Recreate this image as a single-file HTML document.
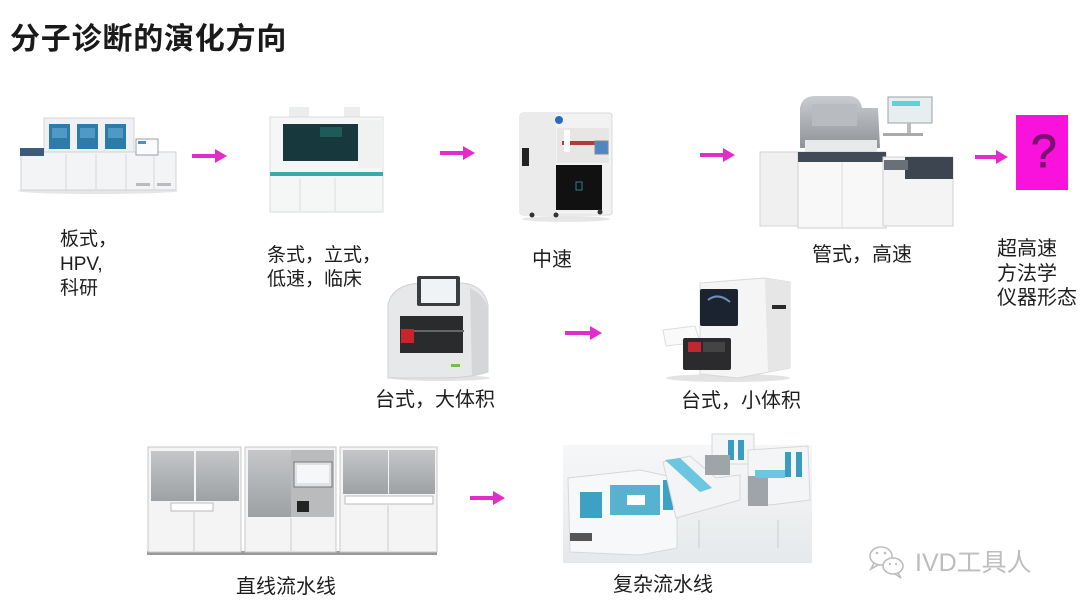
<!DOCTYPE html>
<html><head><meta charset="utf-8">
<style>
html,body{margin:0;padding:0;background:#fff;}
body{width:1080px;height:608px;position:relative;overflow:hidden;font-family:"Liberation Sans","Noto Sans CJK SC",sans-serif;color:#1e1e1e;}
.t{position:absolute;white-space:nowrap;font-size:20px;line-height:24px;}
svg{position:absolute;left:0;top:0;}
</style></head><body>
<svg width="1080" height="608" viewBox="0 0 1080 608" xmlns="http://www.w3.org/2000/svg">
<defs>
<linearGradient id="gh" x1="0" y1="0" x2="0" y2="1"><stop offset="0" stop-color="#c9ccd0"/><stop offset="1" stop-color="#8f9398"/></linearGradient>
<linearGradient id="gp" x1="0" y1="0" x2="0" y2="1"><stop offset="0" stop-color="#c4c6c8"/><stop offset="1" stop-color="#9ea1a4"/></linearGradient>
<linearGradient id="bg8" x1="0" y1="0" x2="0" y2="1"><stop offset="0" stop-color="#f6f7f8"/><stop offset="1" stop-color="#e6e9eb"/></linearGradient>
</defs>
<!-- arrows -->
<g fill="#e22dca" stroke="none">
<rect x="192" y="154" width="24" height="4"/><polygon points="215,149 227,156 215,163"/>
<rect x="440" y="151" width="24" height="4"/><polygon points="463,146 475,153 463,160"/>
<rect x="700" y="153" width="24" height="4"/><polygon points="723,148 735,155 723,162"/>
<rect x="975" y="155" width="22" height="4"/><polygon points="996,150 1008,157 996,164"/>
<rect x="565" y="331" width="26" height="4"/><polygon points="590,326 602,333 590,340"/>
<rect x="470" y="496" width="24" height="4"/><polygon points="493,491 505,498 493,505"/>
</g>
<!-- question box -->
<rect x="1016" y="115" width="52" height="75" fill="#f912dc"/>

<!-- image 1 -->
<g>
<ellipse cx="98" cy="191" rx="80" ry="3" fill="#e4e6e8"/>
<rect x="44" y="118" width="90" height="36" fill="#eef0f2" stroke="#d2d5d8"/>
<rect x="49" y="124" width="21" height="25" fill="#2f7ba8"/><rect x="77" y="124" width="21" height="25" fill="#2f7ba8"/><rect x="105" y="124" width="21" height="25" fill="#2f7ba8"/>
<rect x="52" y="128" width="15" height="10" fill="#4f9ac4"/><rect x="80" y="128" width="15" height="10" fill="#4f9ac4"/><rect x="108" y="128" width="15" height="10" fill="#4f9ac4"/>
<rect x="21" y="152" width="155" height="38" fill="#f3f4f5" stroke="#cfd2d5"/>
<rect x="20" y="148" width="24" height="8" fill="#3d5c7a"/>
<line x1="66" y1="154" x2="66" y2="190" stroke="#d6d8db"/><line x1="96" y1="154" x2="96" y2="190" stroke="#d6d8db"/><line x1="126" y1="154" x2="126" y2="190" stroke="#d6d8db"/><line x1="154" y1="154" x2="154" y2="190" stroke="#d6d8db"/>
<rect x="136" y="139" width="22" height="16" fill="#fafbfc" stroke="#9aa0a6"/>
<rect x="138" y="141" width="8" height="3" fill="#4f8fc4"/>
<rect x="136" y="183" width="14" height="3" fill="#b8bcc0"/><rect x="157" y="183" width="14" height="3" fill="#b8bcc0"/>
</g>

<!-- image 2 -->
<g>
<rect x="289" y="107" width="20" height="12" fill="#eceeee"/><rect x="344" y="107" width="16" height="12" fill="#eceeee"/>
<rect x="270" y="117" width="113" height="95" fill="#f5f6f6" stroke="#dcdede"/>
<rect x="283" y="124" width="75" height="37" fill="#17393d"/>
<rect x="320" y="127" width="22" height="10" fill="#1f5a5a"/>
<rect x="358" y="120" width="25" height="48" fill="#f0f1f1"/>
<rect x="270" y="172" width="113" height="4" fill="#3ba8aa"/>
<line x1="300" y1="178" x2="300" y2="212" stroke="#dde0e0"/><line x1="335" y1="178" x2="335" y2="212" stroke="#dde0e0"/>
</g>

<!-- image 3 -->
<g>
<ellipse cx="566" cy="219" rx="44" ry="3" fill="#e6e6e6"/>
<rect x="520" y="113" width="92" height="102" rx="3" fill="#f2f2f2" stroke="#d8d8d8"/>
<rect x="520" y="113" width="36" height="102" fill="#ebebeb"/>
<rect x="522" y="148" width="7" height="18" fill="#222"/>
<rect x="557" y="128" width="52" height="35" fill="#e7e6e4"/>
<rect x="562" y="141" width="35" height="4" fill="#b33a3a"/>
<rect x="564" y="130" width="6" height="22" fill="#fff"/>
<rect x="595" y="141" width="13" height="13" fill="#4b87c4" stroke="#888"/>
<rect x="556" y="165" width="46" height="45" fill="#111"/>
<rect x="576" y="182" width="6" height="8" fill="none" stroke="#2e7a8a"/>
<circle cx="559" cy="120" r="4" fill="#2b67c4"/>
<circle cx="532" cy="215" r="2.5" fill="#333"/><circle cx="556" cy="215" r="2.5" fill="#333"/><circle cx="600" cy="212" r="2.5" fill="#333"/>
</g>

<!-- image 4 -->
<g>
<path d="M800,148 L800,108 Q802,96 815,96 L850,96 Q860,97 862,108 L878,108 L880,148 Z" fill="url(#gh)"/>
<rect x="812" y="104" width="45" height="22" fill="#b8bcc0"/>
<rect x="805" y="140" width="72" height="14" fill="#e8e9ea"/>
<rect x="888" y="97" width="44" height="26" fill="#e8eef0" stroke="#9aa1a6"/>
<rect x="892" y="101" width="28" height="5" fill="#5fd3d3"/>
<rect x="907" y="123" width="4" height="12" fill="#bbb"/>
<rect x="883" y="133" width="40" height="3" fill="#aaa"/>
<rect x="760" y="152" width="40" height="74" fill="#f0f0f0" stroke="#d4d4d4"/>
<rect x="798" y="152" width="88" height="76" fill="#f8f8f8" stroke="#cfcfcf"/>
<rect x="798" y="152" width="88" height="10" fill="#3f4b56"/>
<line x1="842" y1="162" x2="842" y2="228" stroke="#ddd"/>
<rect x="883" y="157" width="70" height="69" fill="#f4f4f4" stroke="#d0d0d0"/>
<rect x="905" y="157" width="48" height="22" fill="#3d4650"/>
<rect x="884" y="160" width="24" height="10" fill="#6a7078"/>
</g>

<!-- image 5 -->
<g>
<ellipse cx="440" cy="378" rx="50" ry="3" fill="#e3e3e3"/>
<path d="M388,378 L388,305 Q392,285 420,283 L462,283 Q484,285 488,305 L488,372 Q470,378 440,378 Z" fill="#e7e8e9" stroke="#cfd0d2"/>
<path d="M470,288 Q486,296 488,310 L488,372 L472,376 Z" fill="#d4d6d8"/>
<rect x="417" y="276" width="43" height="30" rx="2" fill="#3a3d40"/>
<rect x="421" y="279" width="35" height="24" fill="#f0f3f5"/>
<rect x="400" y="316" width="63" height="37" fill="#2a2b2d"/>
<rect x="404" y="330" width="60" height="2" fill="#666"/>
<rect x="401" y="329" width="13" height="14" fill="#c9232b"/>
<rect x="451" y="364" width="9" height="3" fill="#6cc24a"/>
</g>

<!-- image 6 -->
<g>
<ellipse cx="728" cy="378" rx="62" ry="4" fill="#e3e3e3"/>
<path d="M700,283 L765,278 L790,282 L790,368 L738,378 L700,374 Z" fill="#f5f5f5" stroke="#d8d8d8"/>
<path d="M765,278 L790,282 L790,368 L768,372 Z" fill="#e6e6e6"/>
<rect x="700" y="289" width="38" height="37" rx="2" fill="#1b2330"/>
<path d="M708,300 Q718,292 730,302" stroke="#6f8fb8" stroke-width="2" fill="none"/>
<rect x="772" y="305" width="14" height="4" fill="#2a2a2a"/>
<polygon points="663,330 695,326 700,342 666,346" fill="#fafafa" stroke="#ddd"/>
<rect x="683" y="338" width="48" height="32" rx="2" fill="#2b2b2d"/>
<rect x="688" y="342" width="13" height="10" fill="#c0282f"/>
<rect x="703" y="342" width="22" height="10" fill="#444"/>
</g>

<!-- image 7 -->
<g>
<rect x="147" y="551" width="290" height="4" fill="#9a9a9a"/>
<rect x="148" y="447" width="93" height="105" fill="#f4f4f4" stroke="#c8c8c8"/>
<rect x="151" y="451" width="43" height="50" fill="url(#gp)"/><rect x="196" y="451" width="43" height="50" fill="url(#gp)"/>
<rect x="171" y="503" width="42" height="8" fill="#fff" stroke="#bbb"/>
<line x1="194" y1="512" x2="194" y2="551" stroke="#ccc"/>
<rect x="245" y="447" width="91" height="105" fill="#f4f4f4" stroke="#c8c8c8"/>
<rect x="248" y="450" width="43" height="67" fill="url(#gp)"/>
<rect x="291" y="450" width="43" height="67" fill="#b9bbbd"/>
<rect x="294" y="462" width="38" height="25" fill="#dfe3e6" stroke="#777"/>
<rect x="297" y="465" width="32" height="18" fill="#f5f7f9"/>
<rect x="297" y="501" width="12" height="11" fill="#222"/>
<line x1="291" y1="518" x2="291" y2="551" stroke="#ccc"/>
<rect x="340" y="447" width="97" height="105" fill="#f4f4f4" stroke="#c8c8c8"/>
<rect x="343" y="450" width="45" height="44" fill="url(#gp)"/><rect x="389" y="450" width="46" height="44" fill="url(#gp)"/>
<rect x="345" y="496" width="88" height="8" fill="#fff" stroke="#bbb"/>
<line x1="388" y1="505" x2="388" y2="551" stroke="#ccc"/>
</g>

<!-- image 8 -->
<g>
<rect x="563" y="445" width="249" height="118" fill="url(#bg8)"/>
<polygon points="568,478 640,470 677,478 677,548 640,555 570,552" fill="#f7f8f9" stroke="#d5d8da"/>
<rect x="580" y="492" width="22" height="26" fill="#3ea1c4"/>
<rect x="610" y="485" width="50" height="30" fill="#56b2cf"/>
<rect x="663" y="480" width="10" height="30" fill="#3ea1c4"/>
<rect x="627" y="495" width="18" height="10" fill="#fff"/>
<rect x="570" y="533" width="22" height="8" fill="#555"/>
<polygon points="663,462 690,456 716,478 740,475 740,500 676,518" fill="#f2f4f5" stroke="#d5d8da"/>
<polygon points="665,460 680,458 712,488 700,492" fill="#6cc6e0"/>
<rect x="712" y="434" width="42" height="30" fill="#f4f5f6" stroke="#d5d8da"/>
<rect x="728" y="440" width="6" height="20" fill="#3a9cc0"/><rect x="738" y="440" width="6" height="20" fill="#3a9cc0"/>
<rect x="705" y="455" width="25" height="20" fill="#9fa4a8"/>
<polygon points="748,450 808,446 810,500 770,505 748,500" fill="#f4f5f6" stroke="#d5d8da"/>
<rect x="785" y="452" width="6" height="25" fill="#3a9cc0"/><rect x="796" y="452" width="6" height="25" fill="#3a9cc0"/>
<rect x="748" y="476" width="20" height="30" fill="#9fa4a8"/>
<rect x="755" y="470" width="30" height="8" fill="#6cc6e0"/>
<line x1="699" y1="520" x2="699" y2="548" stroke="#ccc"/><line x1="778" y1="520" x2="778" y2="548" stroke="#ccc"/>
</g>

<!-- wechat icon -->
<g fill="none" stroke="#bdbdbd" stroke-width="1.6">
<ellipse cx="881" cy="556" rx="11" ry="9"/>
<path d="M874,563 L871,569 L878,565"/>
<ellipse cx="893" cy="566" rx="10" ry="8" fill="#fff"/>
<path d="M898,573 L901,578 L895,574"/>
</g>
<g fill="#bdbdbd"><circle cx="877" cy="553" r="1.3"/><circle cx="885" cy="553" r="1.3"/><circle cx="890" cy="564" r="1.1"/><circle cx="896" cy="564" r="1.1"/></g>
</svg>

<div class="t" style="left:10px;top:23px;font-size:30px;line-height:34px;font-weight:bold;letter-spacing:0.8px;color:#1a1a1a;">分子诊断的演化方向</div>
<div class="t" style="left:1031px;top:126px;font-size:46px;line-height:50px;color:#7a1370;-webkit-text-stroke:1px #7a1370;">?</div>

<div class="t" style="left:60px;top:228px;font-size:19px;line-height:24.5px;">板式，<br>HPV,<br>科研</div>
<div class="t" style="left:267px;top:244px;font-size:19px;line-height:24px;">条式，立式，<br>低速，临床</div>
<div class="t" style="left:532px;top:248px;">中速</div>
<div class="t" style="left:812px;top:243px;">管式，高速</div>
<div class="t" style="left:997px;top:237px;line-height:24.5px;">超高速<br>方法学<br>仪器形态</div>
<div class="t" style="left:375px;top:388px;">台式，大体积</div>
<div class="t" style="left:681px;top:389px;">台式，小体积</div>
<div class="t" style="left:236px;top:575px;">直线流水线</div>
<div class="t" style="left:613px;top:573px;">复杂流水线</div>
<div class="t" style="left:915px;top:549px;font-size:25px;line-height:28px;color:#bdbdbd;">IVD工具人</div>
</body></html>
